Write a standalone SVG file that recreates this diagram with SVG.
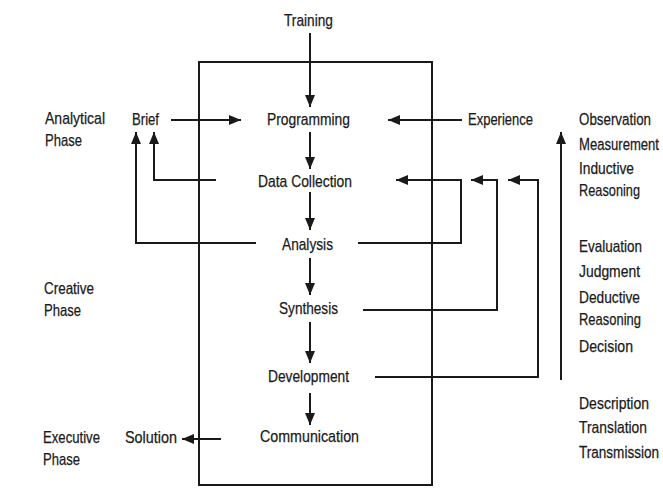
<svg xmlns="http://www.w3.org/2000/svg" width="663" height="488" viewBox="0 0 663 488">
<style>
text{font-family:"Liberation Sans Narrow","Liberation Sans",Arial,sans-serif;font-size:17px;fill:#1a1a1a;stroke:#1a1a1a;stroke-width:0.25}
.ln{fill:none;stroke:#1a1a1a;stroke-width:2}
.box{fill:none;stroke:#1a1a1a;stroke-width:2}
</style>
<defs>
<marker id="ah" markerUnits="userSpaceOnUse" markerWidth="12" markerHeight="10" viewBox="0 0 12 10" refX="12" refY="5" orient="auto">
<path d="M0,0 L12,5 L0,10 Z" fill="#1a1a1a"/>
</marker>
</defs>
<rect width="663" height="488" fill="#ffffff"/>
<rect id="frame" class="box" x="199" y="62" width="233" height="423"/>
<g id="connectors">
<path class="ln" d="M310,33 V107" marker-end="url(#ah)"/>
<path class="ln" d="M310,132 V169" marker-end="url(#ah)"/>
<path class="ln" d="M310,192 V230" marker-end="url(#ah)"/>
<path class="ln" d="M310,258 V295" marker-end="url(#ah)"/>
<path class="ln" d="M310,322 V363" marker-end="url(#ah)"/>
<path class="ln" d="M310,393 V425" marker-end="url(#ah)"/>
<path class="ln" d="M171,120 H241" marker-end="url(#ah)"/>
<path class="ln" d="M462,120 H388" marker-end="url(#ah)"/>
<path class="ln" d="M216,180 H154 V132" marker-end="url(#ah)"/>
<path class="ln" d="M256,243 H136 V132" marker-end="url(#ah)"/>
<path class="ln" d="M358,243 H461 V180 H396" marker-end="url(#ah)"/>
<path class="ln" d="M363,310 H497 V180 H471" marker-end="url(#ah)"/>
<path class="ln" d="M375,377 H538 V180 H508" marker-end="url(#ah)"/>
<path class="ln" d="M561,380 V132" marker-end="url(#ah)"/>
<path class="ln" d="M221,439 H182" marker-end="url(#ah)"/>
</g>
<g id="training"><text x="284" y="26" textLength="49" lengthAdjust="spacingAndGlyphs">Training</text></g>
<g id="programming"><text x="267" y="125" textLength="83" lengthAdjust="spacingAndGlyphs">Programming</text></g>
<g id="data-collection"><text x="258" y="187" textLength="94" lengthAdjust="spacingAndGlyphs">Data Collection</text></g>
<g id="analysis"><text x="282" y="250" textLength="51" lengthAdjust="spacingAndGlyphs">Analysis</text></g>
<g id="synthesis"><text x="279" y="314" textLength="59" lengthAdjust="spacingAndGlyphs">Synthesis</text></g>
<g id="development"><text x="268" y="382" textLength="81" lengthAdjust="spacingAndGlyphs">Development</text></g>
<g id="communication"><text x="260" y="442" textLength="99" lengthAdjust="spacingAndGlyphs">Communication</text></g>
<g id="brief"><text x="132" y="125" textLength="27" lengthAdjust="spacingAndGlyphs">Brief</text></g>
<g id="experience"><text x="468" y="125" textLength="65" lengthAdjust="spacingAndGlyphs">Experience</text></g>
<g id="solution"><text x="125" y="443" textLength="52" lengthAdjust="spacingAndGlyphs">Solution</text></g>
<g id="analytical-phase">
<text x="45" y="124" textLength="60" lengthAdjust="spacingAndGlyphs">Analytical</text>
<text x="45" y="146" textLength="37" lengthAdjust="spacingAndGlyphs">Phase</text>
</g>
<g id="creative-phase">
<text x="44" y="294" textLength="50" lengthAdjust="spacingAndGlyphs">Creative</text>
<text x="44" y="316" textLength="37" lengthAdjust="spacingAndGlyphs">Phase</text>
</g>
<g id="executive-phase">
<text x="43" y="443" textLength="57" lengthAdjust="spacingAndGlyphs">Executive</text>
<text x="43" y="465" textLength="37" lengthAdjust="spacingAndGlyphs">Phase</text>
</g>
<g id="inductive-list">
<text transform="translate(579,125) scale(0.8,1)" textLength="90" lengthAdjust="spacingAndGlyphs">Observation</text>
<text transform="translate(579,150) scale(0.8,1)" textLength="100" lengthAdjust="spacingAndGlyphs">Measurement</text>
<text x="579" y="174" textLength="55" lengthAdjust="spacingAndGlyphs">Inductive</text>
<text x="579" y="196" textLength="61" lengthAdjust="spacingAndGlyphs">Reasoning</text>
</g>
<g id="deductive-list">
<text x="579" y="252" textLength="63" lengthAdjust="spacingAndGlyphs">Evaluation</text>
<text x="579" y="277" textLength="61" lengthAdjust="spacingAndGlyphs">Judgment</text>
<text x="579" y="303" textLength="61" lengthAdjust="spacingAndGlyphs">Deductive</text>
<text x="579" y="325" textLength="62" lengthAdjust="spacingAndGlyphs">Reasoning</text>
<text x="579" y="352" textLength="54" lengthAdjust="spacingAndGlyphs">Decision</text>
</g>
<g id="executive-list">
<text x="579" y="409" textLength="70" lengthAdjust="spacingAndGlyphs">Description</text>
<text x="579" y="433" textLength="68" lengthAdjust="spacingAndGlyphs">Translation</text>
<text transform="translate(579,458) scale(0.8,1)" textLength="100" lengthAdjust="spacingAndGlyphs">Transmission</text>
</g>
</svg>
